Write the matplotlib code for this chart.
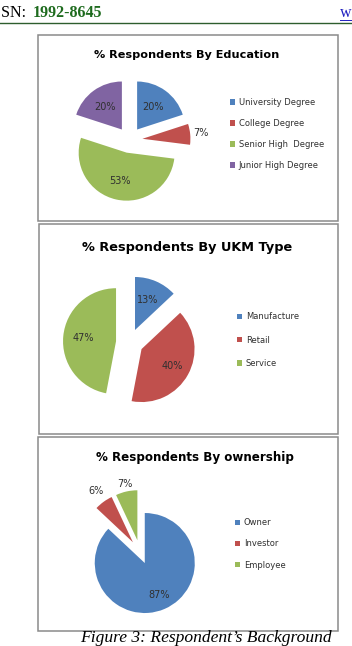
import matplotlib
matplotlib.use("Agg")
import matplotlib.pyplot as plt
from matplotlib.patches import Rectangle
import numpy as np

# ---------------- data ----------------
edu_labels = ["University Degree", "College Degree", "Senior High  Degree", "Junior High Degree"]
edu_values = [20, 7, 53, 20]
edu_title = "% Respondents By Education"

ukm_labels = ["Manufacture", "Retail", "Service"]
ukm_values = [13, 40, 47]
ukm_title = "% Respondents By UKM Type"

own_labels = ["Owner", "Investor", "Employee"]
own_values = [87, 6, 7]
own_title = "% Respondents By ownership"

header_left = "SN: "
header_issn = "1992-8645"
caption = "Figure 3: Respondent\u2019s Background"

BLUE, RED, GREEN, PURPLE = "#4F81BD", "#C0504D", "#9BBB59", "#8064A2"

W, H = 352, 646
DPI = 100
fig = plt.figure(figsize=(W / DPI, H / DPI), dpi=DPI)
fig.patch.set_facecolor("white")

# full-page overlay axes in pixel coordinates (y from top)
page = fig.add_axes([0, 0, 1, 1])
page.set_xlim(0, W)
page.set_ylim(H, 0)
page.axis("off")


def fx(x):
    return x / W


def fy(y):
    return 1 - y / H


# header
page.text(1, 17, header_left, fontsize=11.5, family="Liberation Serif", color="black", va="baseline")
page.text(33, 17, header_issn, fontsize=11.5, family="Liberation Serif", weight="bold",
          color="#1E6B1E", va="baseline")
page.plot([0, W], [22.5, 22.5], color="#2E5E2E", lw=1.0)
page.text(340, 17, "w", fontsize=11.5, family="Liberation Serif", color="#2020C0", va="baseline")
page.plot([340, W], [19.5, 19.5], color="#2020C0", lw=0.7)

# boxes
for (x0, y0, x1, y1) in [(38, 35, 338, 221), (39, 224, 338, 434), (38, 437, 338, 631)]:
    page.add_patch(Rectangle((x0, y0), x1 - x0, y1 - y0, fill=False, ec="#8A8A8A", lw=1.1))

# caption
page.text(80, 642, caption, fontsize=12.6, family="Liberation Serif", style="italic",
          color="black", va="baseline", ha="left")


def draw_pie(values, colors, cx, cy, r, expl, label_dist, labels, title, tpos, tsize,
             leg_x, leg_y, leg_space):
    half = 1.6
    ax = fig.add_axes([fx(cx - half * r), fy(cy + half * r), 2 * half * r / W, 2 * half * r / H])
    wedges, _ = ax.pie(values, colors=colors, startangle=90, counterclock=False,
                       explode=[expl] * len(values), radius=1.0,
                       wedgeprops=dict(linewidth=0))
    ax.set_xlim(-half, half)
    ax.set_ylim(-half, half)
    ax.axis("off")
    total = float(sum(values))
    start = 90.0
    for v, ld in zip(values, label_dist):
        theta = np.deg2rad(start - 0.5 * v / total * 360)
        start -= v / total * 360
        dist = expl + ld
        ax.text(dist * np.cos(theta), dist * np.sin(theta), f"{v}%", ha="center", va="center",
                fontsize=7, color="#303030")
    page.text(tpos[0], tpos[1], title, ha="center", va="center", fontsize=tsize,
              weight="bold", color="black")
    leg = fig.legend(wedges, labels, loc="center left",
                     bbox_to_anchor=(fx(leg_x), fy(leg_y)), frameon=False,
                     fontsize=6.0, handlelength=0.65, handleheight=0.65, handletextpad=0.4,
                     labelspacing=leg_space, borderpad=0, borderaxespad=0)
    for t in leg.get_texts():
        t.set_color("#303030")


draw_pie(edu_values, [BLUE, RED, GREEN, PURPLE], 129.5, 140, 48, 0.27,
         [0.57, 1.23, 0.6, 0.59], edu_labels, edu_title, (187, 55), 8.1,
         230, 134, 1.45)
draw_pie(ukm_values, [BLUE, RED, GREEN], 129.6, 342.5, 53, 0.257,
         [0.62, 0.67, 0.62], ukm_labels, ukm_title, (187, 247), 9.3,
         237, 340, 1.7)
draw_pie(own_values, [BLUE, RED, GREEN], 140, 552, 50, 0.24,
         [0.7, 1.26, 1.16], own_labels, own_title, (195, 458), 8.6,
         235, 544, 1.45)

fig.savefig("out.png", dpi=DPI)
